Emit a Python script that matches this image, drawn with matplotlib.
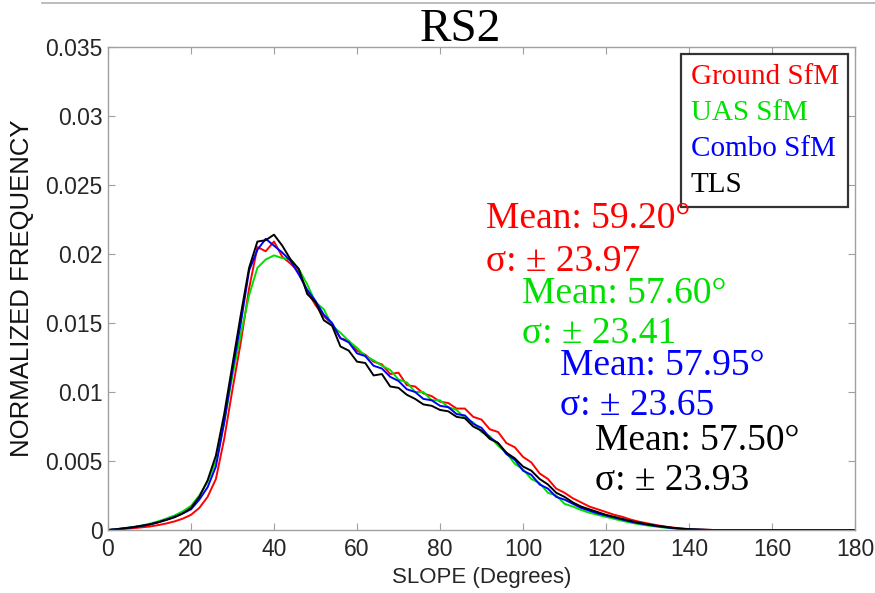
import numpy as np
import matplotlib
matplotlib.use("Agg")
import matplotlib.pyplot as plt
from matplotlib.lines import Line2D

# ---- data (values in units of 1e-3 normalized frequency), slope bins every 2 degrees ----
slope_deg = np.arange(0, 182, 2)

zero_tail = [0.0] * 18  # 146..180 degrees

tls = ([0.00, 0.05, 0.12, 0.20, 0.30, 0.40, 0.55, 0.72, 0.92, 1.20,
        1.60, 2.40, 3.60, 5.40, 8.40, 12.00, 15.60, 19.00, 20.90, 21.00, 21.40,
        20.6, 19.6, 18.9, 17.1, 16.5, 15.2, 14.8, 13.3, 13.0, 12.2, 12.1, 11.2,
        11.3, 10.4, 10.3, 9.8, 9.5, 9.1, 9.0, 8.7, 8.6, 8.2, 8.1, 7.5, 7.2, 6.6,
        6.3, 5.6, 5.2, 4.6, 4.3, 3.7, 3.3, 2.7, 2.4,
        2.0, 1.7, 1.5, 1.3, 1.1, 0.95, 0.8, 0.65, 0.52, 0.42, 0.32, 0.24, 0.16,
        0.10, 0.06, 0.03, 0.01] + zero_tail)

ground = ([0.00, 0.04, 0.08, 0.13, 0.19, 0.25, 0.35, 0.47, 0.62, 0.82,
           1.10, 1.60, 2.40, 3.70, 6.60, 10.20, 13.60, 17.50, 20.50, 20.20, 20.90,
           19.8, 19.3, 18.7, 17.3, 16.3, 15.5, 14.9, 13.9, 13.7, 13.0, 12.7, 12.2,
           12.0, 11.3, 11.4, 10.5, 10.4, 9.9, 9.7, 9.3, 9.2, 8.8, 8.8, 8.2, 8.0, 7.3,
           7.1, 6.3, 6.0, 5.3, 4.9, 4.1, 3.7, 3.0, 2.7,
           2.3, 2.0, 1.7, 1.5, 1.3, 1.1, 0.95, 0.75, 0.6, 0.48, 0.36, 0.26, 0.18,
           0.11, 0.07, 0.04, 0.02] + zero_tail)

uas = ([0.00, 0.06, 0.14, 0.22, 0.32, 0.45, 0.62, 0.82, 1.05, 1.35,
        1.75, 2.50, 3.50, 5.00, 7.80, 11.20, 14.20, 17.00, 19.00, 19.60, 19.90,
        19.7, 19.6, 18.9, 17.8, 16.5, 16.0, 14.8, 14.3, 13.7, 13.2, 12.6, 12.3,
        11.9, 11.6, 10.9, 10.7, 10.0, 10.0, 9.4, 9.4, 8.9, 8.7, 8.1, 7.8, 7.1, 6.8,
        6.1, 5.6, 4.8, 4.4, 3.7, 3.4, 2.7, 2.5, 1.9,
        1.7, 1.45, 1.25, 1.1, 0.95, 0.8, 0.66, 0.53, 0.42, 0.33, 0.25, 0.18, 0.12,
        0.08, 0.05, 0.02, 0.01] + zero_tail)

combo = ([0.00, 0.06, 0.13, 0.20, 0.29, 0.40, 0.55, 0.75, 0.95, 1.20,
          1.50, 2.20, 3.10, 4.60, 7.80, 11.60, 15.00, 18.80, 20.30, 21.10, 20.60,
          20.1, 19.5, 18.5, 17.4, 16.6, 15.6, 15.0, 13.9, 13.6, 12.8, 12.6, 11.9,
          11.7, 11.1, 10.8, 10.2, 10.0, 9.5, 9.4, 9.0, 8.9, 8.4, 8.3, 7.7, 7.4, 6.7,
          6.3, 5.5, 5.1, 4.3, 4.0, 3.3, 3.0, 2.4, 2.2,
          1.9, 1.6, 1.4, 1.2, 1.05, 0.9, 0.75, 0.6, 0.48, 0.38, 0.29, 0.21, 0.14,
          0.09, 0.05, 0.03, 0.01] + zero_tail)

series_names = ["Ground SfM", "UAS SfM", "Combo SfM", "TLS"]
series_vals = [ground, uas, combo, tls]
series_colors = ["#ff0000", "#00e000", "#0000ff", "#000000"]
means = ["59.20", "57.60", "57.95", "57.50"]
sigmas = ["23.97", "23.41", "23.65", "23.93"]

x_ticks = [0, 20, 40, 60, 80, 100, 120, 140, 160, 180]
y_ticks = [0, 0.005, 0.01, 0.015, 0.02, 0.025, 0.03, 0.035]
y_ticklabels = ["0", "0.005", "0.01", "0.015", "0.02", "0.025", "0.03", "0.035"]

# ---- figure ----
fig = plt.figure(figsize=(8.75, 5.93), dpi=100)
ax = fig.add_axes([108/875, 1 - 530/593, 747/875, 483/593])

for vals, col in zip(series_vals, series_colors):
    ax.plot(slope_deg, np.array(vals) * 1e-3, color=col, lw=1.4)

ax.set_xlim(0, 180)
ax.set_ylim(0, 0.035)
ax.set_xticks(x_ticks)
ax.set_yticks(y_ticks)
ax.set_yticklabels(y_ticklabels)
spine_col = "#a0a0a0"
for s in ax.spines.values():
    s.set_color(spine_col)
    s.set_linewidth(1.0)
ax.tick_params(direction="in", top=True, right=True, color=spine_col,
               length=5, labelsize=16.5, labelcolor="#262626", pad=4)
ax.tick_params(axis="x", pad=6)
for lab in ax.get_xticklabels() + ax.get_yticklabels():
    lab.set_fontfamily("Liberation Sans")

ax.set_xlabel("SLOPE (Degrees)", fontsize=16, family="Liberation Sans",
              color="#262626", labelpad=4)
ax.set_ylabel("NORMALIZED FREQUENCY", fontsize=18.5, family="Liberation Sans",
              color="#111111", labelpad=8)

fig.text(460/875, 1 - 41/593, "RS2", fontsize=34, family="Liberation Serif",
         ha="center", va="baseline")

# legend with text only
handles = [Line2D([], [], color=c, lw=0) for c in series_colors]
leg = ax.legend(handles, series_names, loc="upper right",
                bbox_to_anchor=(0.9906, 0.985), handlelength=0, handletextpad=0,
                prop={"family": "Liberation Serif", "size": 21},
                frameon=True, fancybox=False, borderpad=0.32, labelspacing=0.33,
                borderaxespad=0)
leg.get_frame().set_edgecolor("black")
leg.get_frame().set_linewidth(1.6)
for t, c in zip(leg.get_texts(), series_colors):
    t.set_color(c)

# annotations
ann_x = [486, 522, 560, 595]
ann_mean_y = [228, 303, 375, 450]
ann_sig_y = [271, 343, 415, 490]
for xp, ym, ys, m, sg, col in zip(ann_x, ann_mean_y, ann_sig_y, means, sigmas, series_colors):
    fig.text(xp/875, 1 - ym/593, "Mean: " + m + "\u00b0", color=col,
             fontsize=27, family="Liberation Serif", ha="left", va="baseline")
    fig.text(xp/875, 1 - ys/593, "\u03c3: \u00b1 " + sg, color=col,
             fontsize=27, family="Liberation Serif", ha="left", va="baseline")

# thin grey line at the top of the screenshot
fig.add_artist(Line2D([42/875, 1.0], [1 - 3/593, 1 - 3/593], color="#b0b0b0", lw=1.2))

fig.savefig("out.png", dpi=100)
